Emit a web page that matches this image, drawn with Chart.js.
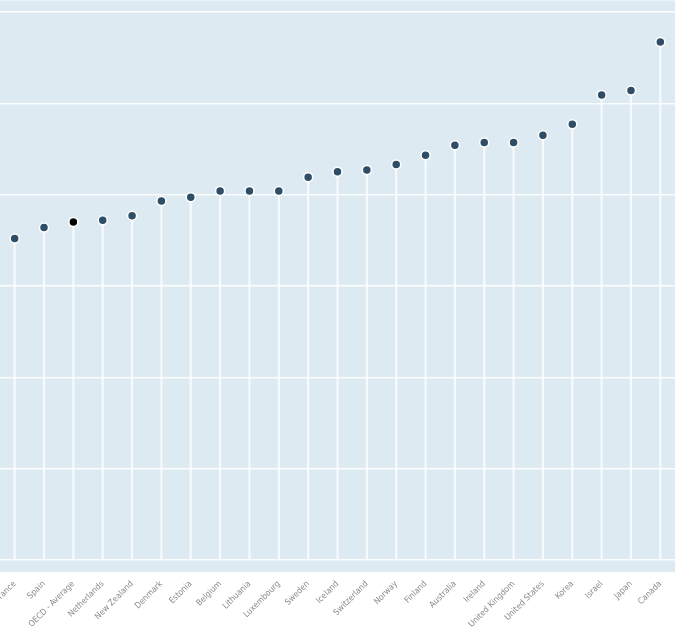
<!DOCTYPE html>
<html><head><meta charset="utf-8">
<script src="https://cdn.jsdelivr.net/npm/chart.js@4/dist/chart.umd.min.js"></script>
<style>html,body{margin:0;padding:0;background:#fff}#wrap{width:675px;height:627px}</style>
</head><body><div id="wrap"><canvas id="c"></canvas></div>
<script>
const categories = ["France","Spain","OECD - Average","Netherlands","New Zealand","Denmark","Estonia","Belgium","Lithuania","Luxembourg","Sweden","Iceland","Switzerland","Norway","Finland","Australia","Ireland","United Kingdom","United States","Korea","Israel","Japan","Canada"];
const values = [35.2,36.4,37.0,37.2,37.7,39.3,39.7,40.4,40.4,40.4,41.9,42.5,42.7,43.3,44.3,45.4,45.7,45.7,46.5,47.7,50.9,51.4,56.7];
const yTicks = [0,10,20,30,40,50,60,61.3];
const highlight = "OECD - Average";

const pointColors = categories.map(c => c === highlight ? "#000000" : "#2e4d66");

const bgPlugin = {
  id: "bg",
  beforeDraw(chart) {
    const {ctx, chartArea: a} = chart;
    ctx.save();
    ctx.fillStyle = "#deeaf2";
    ctx.fillRect(a.left, a.top, a.right - a.left, a.bottom - a.top);
    ctx.restore();
  }
};

new Chart(document.getElementById("c"), {
  data: {
    labels: categories,
    datasets: [
      {
        type: "scatter",
        data: values.map((v, i) => ({x: categories[i], y: v})),
        pointRadius: 4.5,
        pointHoverRadius: 4.5,
        pointBackgroundColor: pointColors,
        pointBorderColor: "#ffffff",
        pointBorderWidth: 1.5,
        showLine: false,
        clip: false,
        order: 0
      },
      {
        type: "bar",
        data: values,
        backgroundColor: "rgba(255,255,255,0.75)",
        barThickness: 1.5,
        order: 1
      }
    ]
  },
  options: {
    responsive: true,
    maintainAspectRatio: false,
    animation: false,
    layout: {autoPadding: false, padding: 0},
    plugins: {legend: {display: false}, tooltip: {enabled: false}},
    scales: {
      x: {
        type: "category",
        offset: true,
        grid: {display: false, drawTicks: false},
        border: {display: false},
        ticks: {
          autoSkip: false,
          minRotation: 45,
          maxRotation: 45,
          padding: 7,
          color: "#8a8a8a",
          font: {family: "'DejaVu Sans Condensed', 'Liberation Sans Narrow', sans-serif", size: 8.5}
        },
        afterFit(scale) { scale.paddingLeft = 0; scale.paddingRight = 0; scale.height = 55; }
      },
      y: {
        min: -1.3,
        max: 61.3,
        grid: {color: "rgba(255,255,255,0.85)", lineWidth: 1.5, drawTicks: false},
        border: {display: false},
        ticks: {display: false},
        afterBuildTicks(scale) { scale.ticks = yTicks.map(v => ({value: v})); },
        afterFit(scale) { scale.width = 0; }
      }
    }
  },
  plugins: [bgPlugin]
});
</script>
</body></html>
